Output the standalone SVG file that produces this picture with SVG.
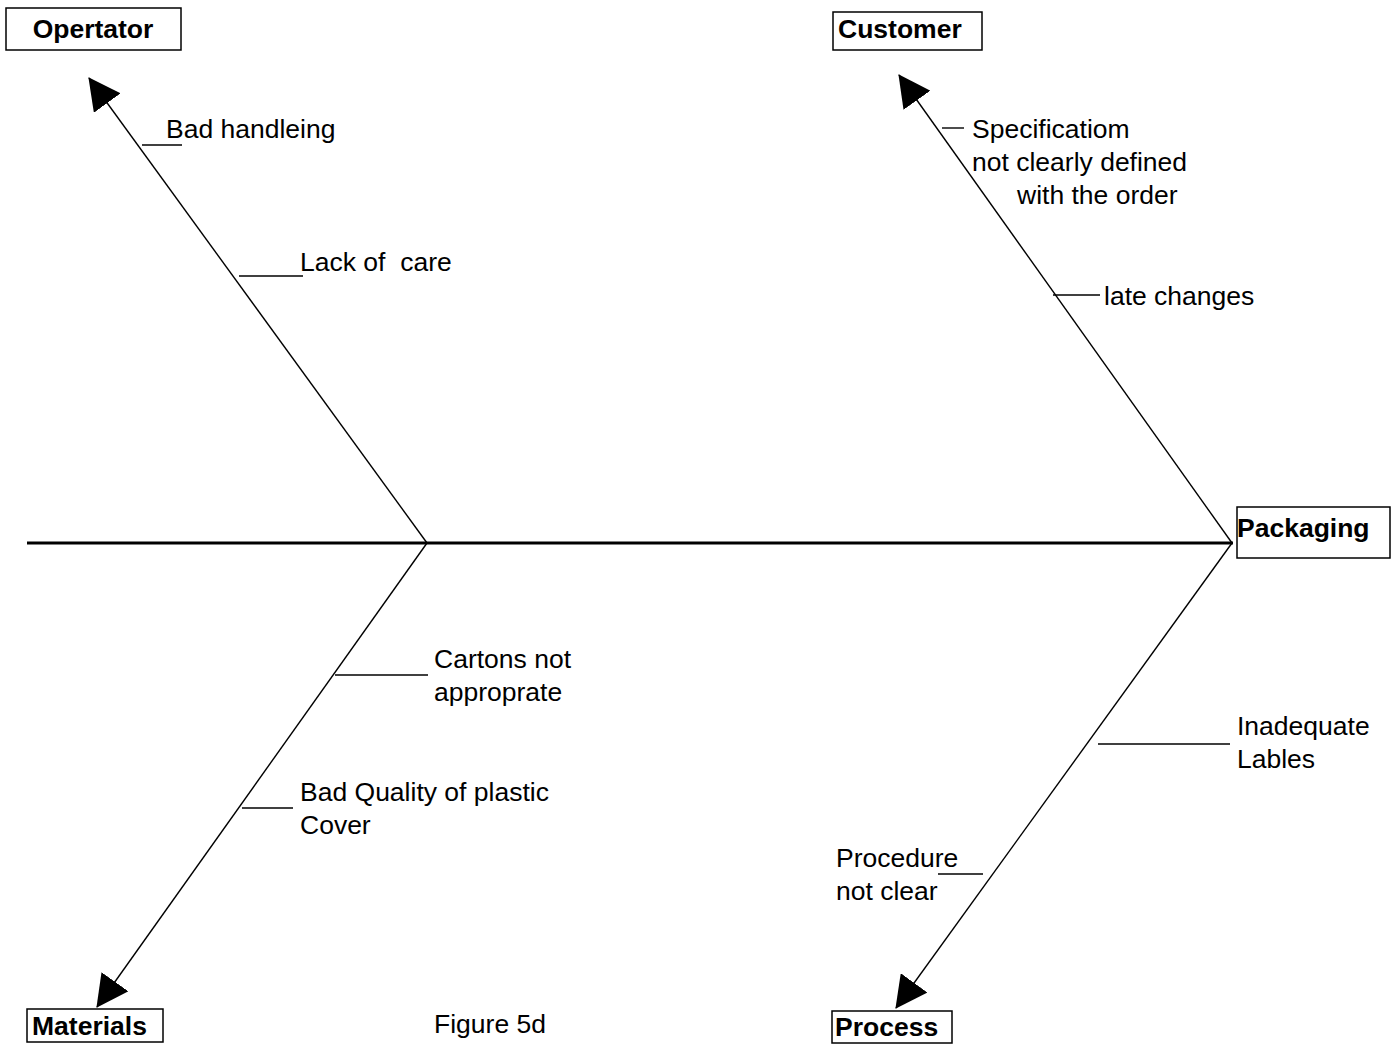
<svg xmlns="http://www.w3.org/2000/svg" width="1395" height="1053" viewBox="0 0 1395 1053">
  <style>
    .box { fill: #fff; stroke: #000; stroke-width: 1.5; }
    .cat { font-family: "Liberation Sans", Arial, sans-serif; font-size: 26.5px; font-weight: bold; fill: #000; }
    .lbl { font-family: "Liberation Sans", Arial, sans-serif; font-size: 26.5px; fill: #000; white-space: pre; }
    .bone { stroke: #000; stroke-width: 1.4; fill: none; }
    .tick { stroke: #000; stroke-width: 1.4; fill: none; }
    .spine { stroke: #000; stroke-width: 3; fill: none; }
  </style>
  <defs>
    <marker id="head" markerUnits="userSpaceOnUse" viewBox="0 0 32 33" markerWidth="32" markerHeight="33" refX="31" refY="16.5" orient="auto">
      <path d="M0,0 L32,16.5 L0,33 Z" fill="#000"/>
    </marker>
  </defs>
  <rect width="1395" height="1053" fill="#fff"/>

  <!-- fishbone spine, bones and cause ticks -->
  <g id="connectors">
    <line class="spine" x1="27" y1="543" x2="1233" y2="543"/>
    <line class="bone" x1="427" y1="543" x2="89" y2="78" marker-end="url(#head)"/>
    <line class="bone" x1="1232" y1="543" x2="899" y2="75" marker-end="url(#head)"/>
    <line class="bone" x1="427" y1="543" x2="97" y2="1007" marker-end="url(#head)"/>
    <line class="bone" x1="1232" y1="543" x2="896" y2="1008" marker-end="url(#head)"/>
    <line class="tick" x1="142" y1="145" x2="182" y2="145"/>
    <line class="tick" x1="239" y1="276" x2="303" y2="276"/>
    <line class="tick" x1="942" y1="128" x2="964" y2="128"/>
    <line class="tick" x1="1053" y1="295" x2="1100" y2="295"/>
    <line class="tick" x1="335" y1="675" x2="428" y2="675"/>
    <line class="tick" x1="242" y1="808" x2="293" y2="808"/>
    <line class="tick" x1="1098" y1="744" x2="1230" y2="744"/>
    <line class="tick" x1="938" y1="874" x2="983" y2="874"/>
  </g>

  <!-- category boxes -->
  <g id="operator">
    <rect class="box" x="6" y="8" width="175" height="42"/>
    <text class="cat" x="93" y="38" text-anchor="middle">Opertator</text>
  </g>
  <g id="customer">
    <rect class="box" x="833" y="12" width="149" height="38"/>
    <text class="cat" x="838" y="38">Customer</text>
  </g>
  <g id="packaging">
    <rect class="box" x="1237" y="507" width="153" height="51"/>
    <text class="cat" x="1237" y="537">Packaging</text>
  </g>
  <g id="materials">
    <rect class="box" x="27" y="1009" width="136" height="33"/>
    <text class="cat" x="32" y="1035">Materials</text>
  </g>
  <g id="process">
    <rect class="box" x="832" y="1011" width="120" height="32"/>
    <text class="cat" x="835" y="1036">Process</text>
  </g>

  <!-- cause labels -->
  <g id="cause-bad-handling">
    <text class="lbl" x="166" y="138">Bad handleing</text>
  </g>
  <g id="cause-lack-of-care">
    <text class="lbl" x="300" y="271" xml:space="preserve">Lack of  care</text>
  </g>
  <g id="cause-specification">
    <text class="lbl" x="972" y="138">Specificatiom</text>
    <text class="lbl" x="972" y="171">not clearly defined</text>
    <text class="lbl" x="1017" y="204">with the order</text>
  </g>
  <g id="cause-late-changes">
    <text class="lbl" x="1104" y="305">late changes</text>
  </g>
  <g id="cause-cartons">
    <text class="lbl" x="434" y="668">Cartons not</text>
    <text class="lbl" x="434" y="701">approprate</text>
  </g>
  <g id="cause-plastic-cover">
    <text class="lbl" x="300" y="801">Bad Quality of plastic</text>
    <text class="lbl" x="300" y="834">Cover</text>
  </g>
  <g id="cause-labels">
    <text class="lbl" x="1237" y="735">Inadequate</text>
    <text class="lbl" x="1237" y="768">Lables</text>
  </g>
  <g id="cause-procedure">
    <text class="lbl" x="836" y="867">Procedure</text>
    <text class="lbl" x="836" y="900">not clear</text>
  </g>
  <g id="caption">
    <text class="lbl" x="434" y="1033">Figure 5d</text>
  </g>
</svg>
